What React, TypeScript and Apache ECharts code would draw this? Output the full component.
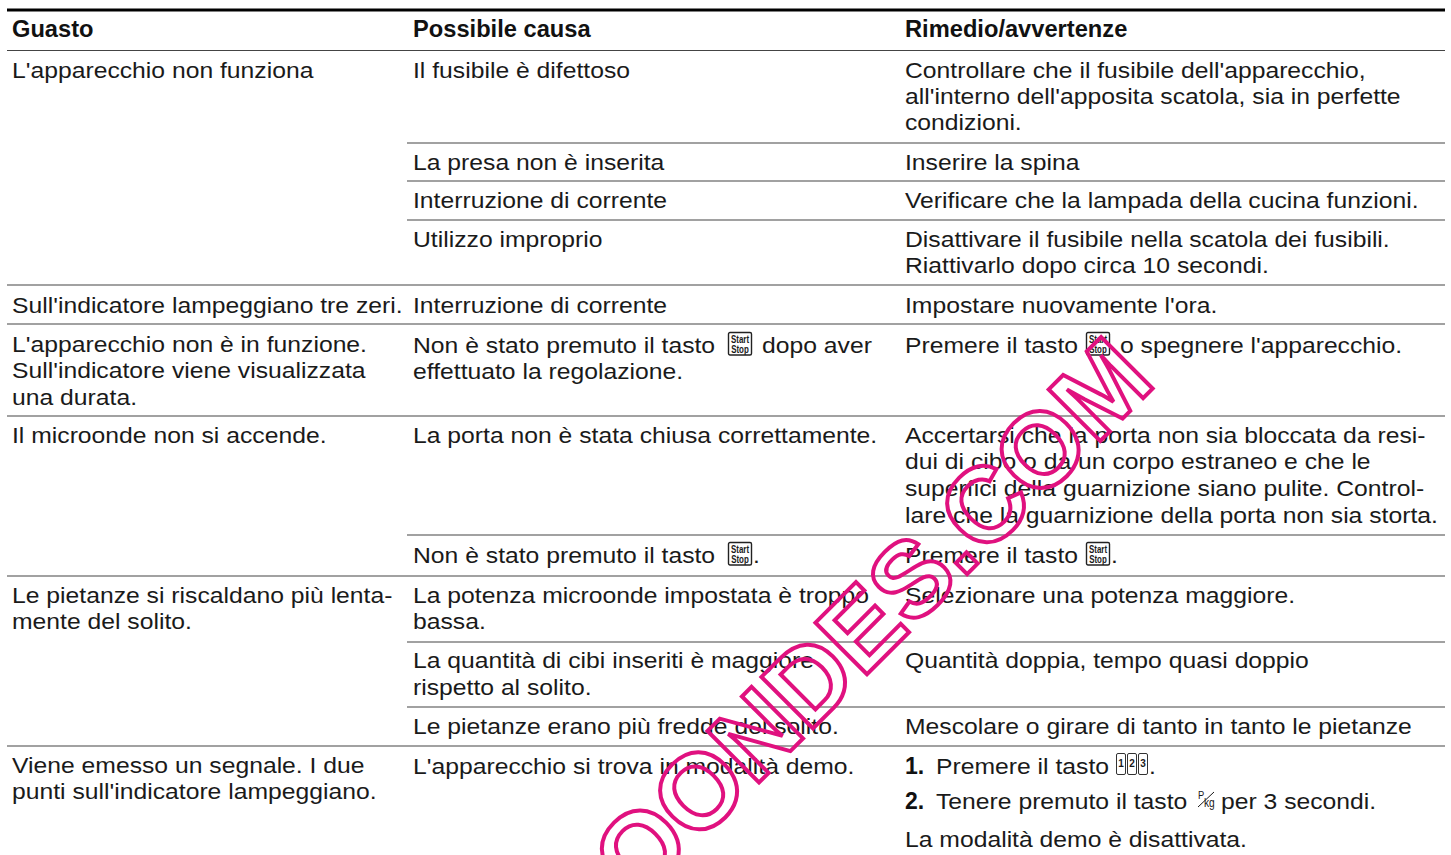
import React, { useEffect, useRef } from "react";
import * as echarts from "echarts";

const headers = ["Guasto", "Possibile causa", "Rimedio/avvertenze"];
const faultLines = [
  "L'apparecchio non funziona",
  "Sull'indicatore lampeggiano tre zeri.",
  "L'apparecchio non è in funzione.",
  "Sull'indicatore viene visualizzata",
  "una durata.",
  "Il microonde non si accende.",
  "Le pietanze si riscaldano più lenta-",
  "mente del solito.",
  "Viene emesso un segnale. I due",
  "punti sull'indicatore lampeggiano.",
];
const causeLines = [
  "Il fusibile è difettoso",
  "La presa non è inserita",
  "Interruzione di corrente",
  "Utilizzo improprio",
  "Interruzione di corrente",
  "Non è stato premuto il tasto",
  "effettuato la regolazione.",
  "La porta non è stata chiusa correttamente.",
  "Non è stato premuto il tasto",
  "La potenza microonde impostata è troppo",
  "bassa.",
  "La quantità di cibi inseriti è maggiore",
  "rispetto al solito.",
  "Le pietanze erano più fredde del solito.",
  "L'apparecchio si trova in modalità demo.",
];
const remedyLines = [
  "Controllare che il fusibile dell'apparecchio,",
  "all'interno dell'apposita scatola, sia in perfette",
  "condizioni.",
  "Inserire la spina",
  "Verificare che la lampada della cucina funzioni.",
  "Disattivare il fusibile nella scatola dei fusibili.",
  "Riattivarlo dopo circa 10 secondi.",
  "Impostare nuovamente l'ora.",
  "Premere il tasto",
  "Accertarsi che la porta non sia bloccata da resi-",
  "dui di cibo o da un corpo estraneo e che le",
  "superfici della guarnizione siano pulite. Control-",
  "lare che la guarnizione della porta non sia storta.",
  "Premere il tasto",
  "Selezionare una potenza maggiore.",
  "Quantità doppia, tempo quasi doppio",
  "Mescolare o girare di tanto in tanto le pietanze",
  "Premere il tasto",
  "Tenere premuto il tasto",
  "La modalità demo è disattivata.",
];
const inlineTexts = ["dopo aver", "o spegnere l'apparecchio.", ".", ".", ".", "per 3 secondi."];
const stepNumbers = ["1.", "2."];
const keyNumbers = ["1", "2", "3"];
const startStop = ["Start", "Stop"];
const weightKey = ["P", "kg"];
const watermark = "OONDES.COM";

const layout = {
  colX: [12, 413, 905],
  headerY: 29,
  faultY: [70, 305, 344, 370, 397, 435, 595, 621, 765, 791],
  causeY: [70, 162, 200, 239, 305, 345, 371, 435, 555, 595, 621, 660, 687, 726, 766],
  remedyY: [70, 96, 122, 162, 200, 239, 265, 305, 345, 435, 461, 488, 515, 555, 595, 660, 726, 766, 801, 839],
  fullRules: [50.5, 285, 324, 416, 576, 746],
  partRules: [143, 181, 220, 535, 642, 707],
  inline: [
    [762, 345],
    [1120, 345],
    [753, 555],
    [1111, 555],
    [1149, 766],
    [1221, 801],
  ],
  steps: [766, 801],
  startKeys: [
    [728, 332],
    [1086, 332],
    [728, 542],
    [1086, 542],
  ],
};

const FONT = "'Liberation Sans', Arial, sans-serif";
const INK = "#1a1a1a";
const BODY_SIZE = 23;
const STRETCH = 1.075;

const txt = (text: string, x: number, y: number, extra: any = {}) => ({
  type: "text",
  x,
  y,
  scaleX: extra.scaleX ?? STRETCH,
  silent: true,
  style: {
    text,
    fontFamily: FONT,
    fontSize: extra.fontSize ?? BODY_SIZE,
    fontWeight: extra.fontWeight ?? "normal",
    fill: extra.fill ?? INK,
    textAlign: extra.align ?? "left",
    textVerticalAlign: "middle",
    verticalAlign: "middle",
  },
});

const rule = (x1: number, x2: number, y: number, w: number, c: string) => ({
  type: "line",
  silent: true,
  shape: { x1, y1: y, x2, y2: y },
  style: { stroke: c, lineWidth: w },
});

const startKey = (x: number, y: number) => ({
  type: "group",
  x,
  y,
  silent: true,
  children: [
    { type: "rect", shape: { x: 0.5, y: 0.5, width: 23, height: 22.5, r: 1.5 }, style: { fill: "#fff", stroke: "#222", lineWidth: 1.4 } },
    txt(startStop[0], 12, 6.5, { fontSize: 11, align: "center", fontWeight: "bold", scaleX: 0.72 }),
    txt(startStop[1], 12, 16.5, { fontSize: 11, align: "center", fontWeight: "bold", scaleX: 0.72 }),
  ],
});

function buildGraphics() {
  const g: any[] = [];
  g.push(rule(7, 1445, 10, 2.8, "#000"));
  layout.fullRules.forEach((y) => g.push(rule(7, 1445, y, 1.2, "#444")));
  layout.partRules.forEach((y) => g.push(rule(407, 1445, y, 1.2, "#444")));

  headers.forEach((h, i) => g.push(txt(h, layout.colX[i], layout.headerY, { fontWeight: "bold", scaleX: 1.03, fill: "#111" })));
  faultLines.forEach((t, i) => g.push(txt(t, layout.colX[0], layout.faultY[i])));
  causeLines.forEach((t, i) => g.push(txt(t, layout.colX[1], layout.causeY[i])));
  remedyLines.forEach((t, i) => {
    const isStep = i === 17 || i === 18;
    g.push(txt(t, isStep ? 936 : layout.colX[2], layout.remedyY[i]));
  });
  stepNumbers.forEach((t, i) => g.push(txt(t, layout.colX[2], layout.steps[i], { fontWeight: "bold", scaleX: 1.0, fill: "#111" })));
  inlineTexts.forEach((t, i) => g.push(txt(t, layout.inline[i][0], layout.inline[i][1])));
  layout.startKeys.forEach(([x, y]) => g.push(startKey(x, y)));

  keyNumbers.forEach((n, i) => {
    const x = 1116 + i * 11;
    g.push({
      type: "group",
      x,
      y: 753,
      silent: true,
      children: [
        { type: "rect", shape: { x: 0.5, y: 0.5, width: 9, height: 21, r: 1.5 }, style: { fill: "#fff", stroke: "#333", lineWidth: 1 } },
        txt(n, 5, 10.5, { fontSize: 10, align: "center", fontWeight: "bold", scaleX: 1 }),
      ],
    });
  });
  g.push(txt(weightKey[0], 1198, 795, { fontSize: 11, scaleX: 0.85 }));
  g.push(txt(weightKey[1], 1204, 803, { fontSize: 12, scaleX: 0.85 }));
  g.push({
    type: "line",
    silent: true,
    shape: { x1: 1198, y1: 807, x2: 1214, y2: 792 },
    style: { stroke: INK, lineWidth: 1 },
  });

  g.push({
    type: "text",
    x: 1169,
    y: 395,
    rotation: Math.PI / 4,
    silent: true,
    z: 10,
    style: {
      text: watermark,
      fontFamily: FONT,
      fontSize: 106,
      fontWeight: "bold",
      fill: "none",
      stroke: "#e0117f",
      lineWidth: 4,
      lineJoin: "round",
      textAlign: "right",
      verticalAlign: "bottom",
    },
  });
  return g;
}

export default function App() {
  const ref = useRef<HTMLDivElement>(null);
  useEffect(() => {
    document.body.style.margin = "0";
    document.body.style.background = "#fff";
    const chart = echarts.init(ref.current!, undefined, { renderer: "svg" });
    chart.setOption({ animation: false, backgroundColor: "#fff", graphic: { elements: buildGraphics() } });
    return () => chart.dispose();
  }, []);
  return <div ref={ref} style={{ width: 1451, height: 855, overflow: "hidden" }} />;
}
